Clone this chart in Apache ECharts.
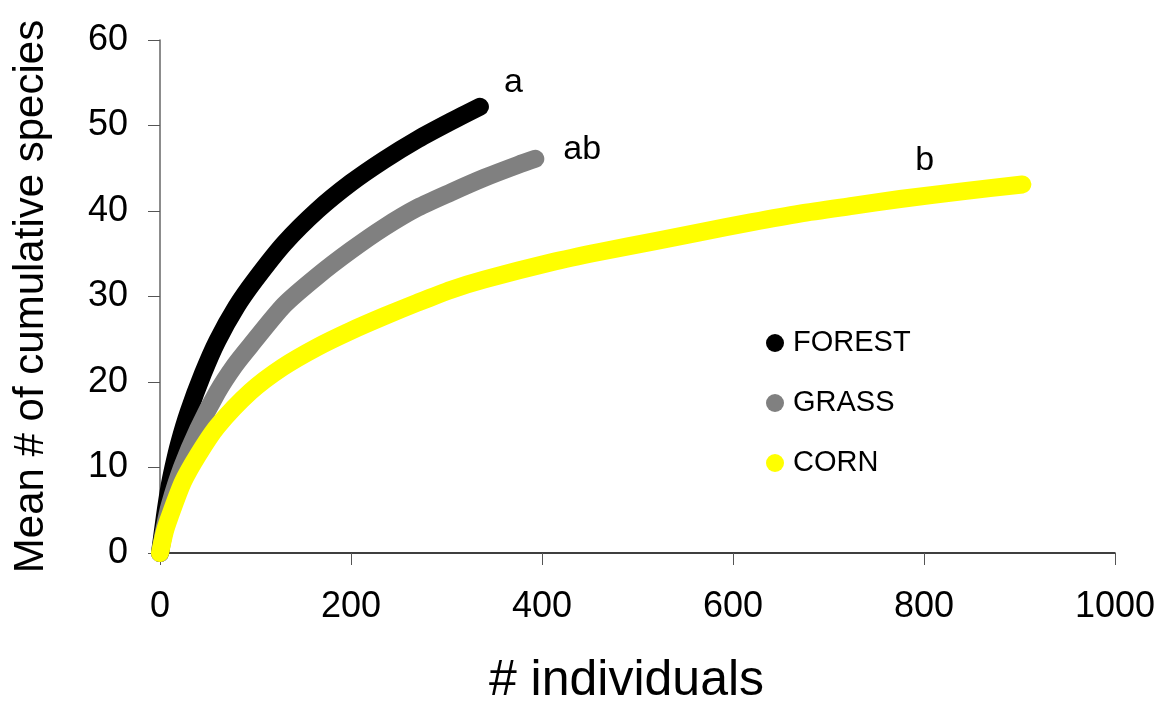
<!DOCTYPE html>
<html>
<head>
<meta charset="utf-8">
<script src="https://cdn.jsdelivr.net/npm/echarts@6/dist/echarts.min.js"></script>
<style>
html,body{margin:0;padding:0;background:#fff;}
#chart{width:1165px;height:711px;}
</style>
</head>
<body>
<div id="chart"></div>
<script>
// Data
const seriesNames = ['FOREST', 'GRASS', 'CORN'];
const seriesColors = ['#000000', '#808080', '#FFFF00'];
const groupLetters = ['a', 'ab', 'b'];
const xTicks = [0, 200, 400, 600, 800, 1000];
const yTicks = [0, 10, 20, 30, 40, 50, 60];

const forestN = [0, 5, 10, 14, 20, 30, 45, 60, 80, 100, 130, 165, 200, 235, 270, 305, 335];
const forestS = [0, 4.2, 7.8, 10, 12.8, 16.5, 21, 24.8, 28.8, 32, 36.2, 40.1, 43.3, 46, 48.4, 50.5, 52.2];

const grassN = [0, 5, 10, 23, 40, 60, 78, 95, 130, 165, 200, 235, 270, 305, 340, 375, 393];
const grassS = [0, 3, 5.5, 10, 14.5, 18.8, 21.9, 24.3, 29, 32.4, 35.4, 38.1, 40.4, 42.2, 43.9, 45.4, 46.1];

const cornN = [0, 5, 10, 24, 40, 60, 95, 128, 165, 200, 235, 270, 305, 340, 410, 460, 520, 565, 620, 670, 725, 775, 840, 903];
const cornS = [0, 2.5, 4.2, 8.3, 11.5, 14.8, 18.9, 21.7, 24.1, 26, 27.7, 29.3, 30.8, 32, 34, 35.2, 36.5, 37.5, 38.7, 39.7, 40.6, 41.4, 42.3, 43.1];

const allN = [forestN, grassN, cornN];
const allS = [forestS, grassS, cornS];
const labelOffsets = [[16, -24], [20, -9], [-115, -24]];

const FONT = '"Liberation Sans", Arial, sans-serif';

const chart = echarts.init(document.getElementById('chart'), null, {renderer: 'canvas'});

const series = seriesNames.map((name, i) => ({
  name: name,
  type: 'line',
  data: allN[i].map((n, k) => [n, allS[i][k]]),
  smooth: 0.25,
  showSymbol: false,
  symbol: 'circle',
  color: seriesColors[i],
  lineStyle: {width: 18, color: seriesColors[i], cap: 'round', join: 'round'},
  endLabel: {
    show: true,
    formatter: groupLetters[i],
    color: '#000',
    fontFamily: FONT,
    fontSize: 34,
    offset: labelOffsets[i]
  },
  z: 2 + i
}));

chart.setOption({
  animation: false,
  backgroundColor: '#ffffff',
  grid: {left: 160, right: 50, top: 40, bottom: 157, containLabel: false},
  legend: {
    data: seriesNames,
    orient: 'vertical',
    left: 761,
    top: 323,
    icon: 'circle',
    itemWidth: 18,
    itemHeight: 18,
    itemGap: 30,
    textStyle: {color: '#000', fontFamily: FONT, fontSize: 29, lineHeight: 30, padding: [0, 0, 0, 4]}
  },
  xAxis: {
    type: 'value',
    min: 0, max: 1000, interval: 200,
    name: '# individuals',
    nameLocation: 'middle',
    nameGap: 103,
    nameTextStyle: {color: '#000', fontFamily: FONT, fontSize: 50, padding: [0, 22, 0, 0]},
    axisLine: {show: true, onZero: false, lineStyle: {color: '#000', width: 1.5}},
    axisTick: {show: true, inside: false, length: 12, lineStyle: {color: '#555', width: 1}},
    axisLabel: {color: '#000', fontFamily: FONT, fontSize: 36, margin: 36,
      formatter: v => xTicks.includes(v) ? String(v) : ''},
    splitLine: {show: false}
  },
  yAxis: {
    type: 'value',
    min: 0, max: 60, interval: 10,
    name: 'Mean # of cumulative species',
    nameLocation: 'middle',
    nameGap: 108,
    nameTextStyle: {color: '#000', fontFamily: FONT, fontSize: 42},
    axisLine: {show: true, onZero: false, lineStyle: {color: '#666', width: 1.5}},
    axisTick: {show: true, inside: false, length: 12, lineStyle: {color: '#555', width: 1}},
    axisLabel: {color: '#000', fontFamily: FONT, fontSize: 36, margin: 32,
      formatter: v => yTicks.includes(v) ? String(v) : ''},
    splitLine: {show: false}
  },
  series: series
});
</script>
</body>
</html>
